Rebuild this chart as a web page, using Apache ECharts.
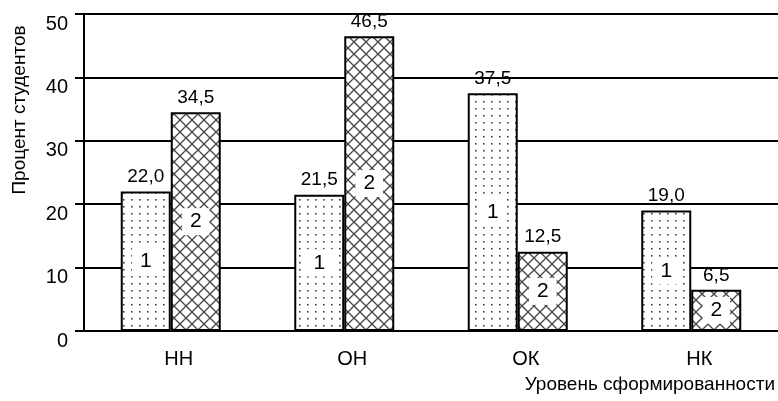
<!DOCTYPE html>
<html>
<head>
<meta charset="utf-8">
<script src="https://cdn.jsdelivr.net/npm/echarts@6/dist/echarts.min.js"></script>
<style>
  html, body { margin: 0; padding: 0; background: #fff; }
  #chart { width: 778px; height: 401px; }
</style>
</head>
<body>
<div id="chart"></div>
<script>
var categories = ['НН', 'ОН', 'ОК', 'НК'];
var series1 = [22.0, 21.5, 37.5, 19.0];
var series2 = [34.5, 46.5, 12.5, 6.5];
var seriesMarks = ['1', '2'];
var yTicks = [0, 10, 20, 30, 40, 50];

var font = "'Liberation Sans', Arial, sans-serif";

// fill patterns for the two groups
function dotPattern() {
  var c = document.createElement('canvas');
  c.width = 8; c.height = 7;
  var ctx = c.getContext('2d');
  ctx.fillStyle = '#fff';
  ctx.fillRect(0, 0, 8, 7);
  ctx.fillStyle = '#444';
  ctx.fillRect(3, 3, 1.6, 1.6);
  return c;
}
function crossPattern() {
  var s = 12;
  var c = document.createElement('canvas');
  c.width = s; c.height = s;
  var ctx = c.getContext('2d');
  ctx.fillStyle = '#fff';
  ctx.fillRect(0, 0, s, s);
  ctx.strokeStyle = '#444';
  ctx.lineWidth = 1.3;
  ctx.beginPath();
  ctx.moveTo(-1, -1); ctx.lineTo(s + 1, s + 1);
  ctx.moveTo(s + 1, -1); ctx.lineTo(-1, s + 1);
  ctx.stroke();
  return c;
}

function valueText(p) {
  return p.value.toFixed(1).replace('.', ',');
}

var black = { color: '#000', width: 2 };

function barSeries(data, pattern) {
  return {
    type: 'bar',
    data: data,
    xAxisIndex: 0,
    barWidth: 50,
    barGap: '0%',
    itemStyle: {
      color: { image: pattern, repeat: 'repeat' },
      borderColor: '#000',
      borderWidth: 2
    },
    label: {
      show: true,
      position: 'top',
      distance: 5,
      formatter: valueText,
      fontFamily: font,
      fontSize: 19,
      color: '#000'
    }
  };
}

function markSeries(data, mark) {
  return {
    type: 'bar',
    data: data,
    xAxisIndex: 1,
    barWidth: 50,
    barGap: '0%',
    silent: true,
    itemStyle: { color: 'transparent' },
    label: {
      show: true,
      position: 'inside',
      formatter: mark,
      fontFamily: font,
      fontSize: 21,
      color: '#000',
      backgroundColor: '#fff',
      padding: [3, 8]
    }
  };
}

var chart = echarts.init(document.getElementById('chart'));
chart.setOption({
  animation: false,
  backgroundColor: '#fff',
  grid: { left: 84, top: 14, width: 701, height: 317 },
  xAxis: [{
    type: 'category',
    data: categories,
    axisLine: { lineStyle: black },
    axisTick: { length: 9, lineStyle: black },
    axisLabel: {
      color: '#000', fontFamily: font, fontSize: 20, margin: 18,
      padding: [0, 0, 0, 16]
    },
    name: 'Уровень сформированности',
    nameLocation: 'end',
    nameGap: -3,
    nameTextStyle: {
      fontFamily: font, fontSize: 19, color: '#000',
      align: 'right', verticalAlign: 'top', padding: [44, 0, 0, 0]
    }
  }, {
    type: 'category',
    data: categories,
    show: false
  }],
  yAxis: {
    type: 'value',
    min: yTicks[0],
    max: yTicks[yTicks.length - 1],
    interval: yTicks[1] - yTicks[0],
    axisLine: { show: true, lineStyle: black },
    axisTick: { show: true, length: 9, lineStyle: black },
    splitLine: { lineStyle: black },
    axisLabel: {
      color: '#000', fontFamily: font, fontSize: 20, margin: 16,
      verticalAlign: 'top'
    },
    name: 'Процент студентов',
    nameLocation: 'middle',
    nameRotate: 90,
    nameGap: 55,
    nameTextStyle: {
      fontFamily: font, fontSize: 19, color: '#000',
      padding: [0, 0, 0, 125]
    }
  },
  series: [
    barSeries(series1, dotPattern()),
    barSeries(series2, crossPattern()),
    markSeries(series1, seriesMarks[0]),
    markSeries(series2, seriesMarks[1])
  ]
});
</script>
</body>
</html>
